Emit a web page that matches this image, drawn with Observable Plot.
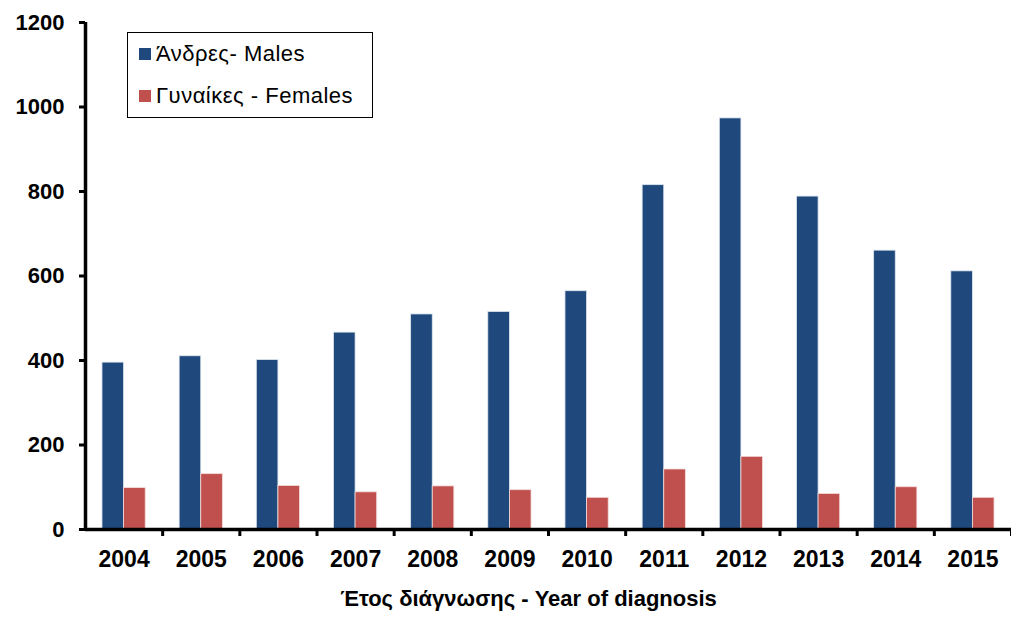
<!DOCTYPE html>
<html>
<head>
<meta charset="utf-8">
<script src="https://cdn.jsdelivr.net/npm/d3@7"></script>
<script src="https://cdn.jsdelivr.net/npm/@observablehq/plot@0.6"></script>
<style>
  html, body { margin: 0; padding: 0; background: #fff; }
  #wrap { position: relative; width: 1011px; height: 619px; font-family: "Liberation Sans", Arial, sans-serif; }
  #legend { position: absolute; left: 127px; top: 32px; width: 244px; height: 84px; border: 1px solid #000; background: #fff; box-sizing: content-box; }
  .item { position: absolute; left: 11px; display: flex; align-items: center; font-size: 22px; letter-spacing: 0.5px; color: #000; white-space: nowrap; }
  .sw { width: 12px; height: 12px; margin-right: 5px; }
</style>
</head>
<body>
<div id="wrap"></div>
<script>
const years = [2004, 2005, 2006, 2007, 2008, 2009, 2010, 2011, 2012, 2013, 2014, 2015];
const males = [395, 410, 401, 466, 509, 515, 564, 815, 973, 788, 660, 611];
const females = [98, 131, 103, 88, 102, 93, 75, 142, 172, 84, 100, 75];
const yTicks = [0, 200, 400, 600, 800, 1000, 1200];
const seriesNames = ["Άνδρες- Males", "Γυναίκες - Females"];
const seriesColors = ["#1F497D", "#C0504D"];
const xTitle = "Έτος διάγνωσης - Year of diagnosis";

const half = 0.28;
const maleData = years.map((y, i) => ({year: y, value: males[i]}));
const femaleData = years.map((y, i) => ({year: y, value: females[i]}));
const boundaries = years.slice(1).map(y => y - 0.5).concat([years[years.length - 1] + 0.5]);

const chart = Plot.plot({
  width: 1011,
  height: 619,
  marginLeft: 85,
  marginRight: 0,
  marginTop: 22,
  marginBottom: 90,
  style: {fontFamily: "'Liberation Sans', Arial, sans-serif", background: "#fff"},
  x: {type: "linear", domain: [years[0] - 0.5, years[years.length - 1] + 0.5]},
  y: {domain: [0, 1200]},
  marks: [
    Plot.rectY(maleData, {x1: d => d.year - half, x2: d => d.year, y: "value", fill: seriesColors[0], stroke: "#dfe6f0", strokeWidth: 0.8}),
    Plot.rectY(femaleData, {x1: d => d.year, x2: d => d.year + half, y: "value", fill: seriesColors[1], stroke: "#f3dcdb", strokeWidth: 0.8}),
    Plot.axisY({ticks: yTicks, tickSize: 6, tickPadding: 15, strokeWidth: 3, tickFormat: d => String(d), fontSize: 22, fontWeight: "bold", fill: "#000", label: null}),
    Plot.axisX({ticks: boundaries, tickSize: 7, strokeWidth: 3, tickFormat: () => "", label: null}),
    Plot.axisX({ticks: years, tickSize: 0, tickPadding: 21, tickFormat: d => String(d), fontSize: 23, fontWeight: "bold", fill: "#000", label: null}),
    Plot.ruleY([0], {stroke: "#000", strokeWidth: 3.5}),
    Plot.ruleX([years[0] - 0.5], {y1: 0, y2: 1200, stroke: "#000", strokeWidth: 3.5}),
    Plot.text([xTitle], {text: d => d, frameAnchor: "bottom", dy: 76, dx: -20, fontSize: 22, fontWeight: "bold", fill: "#000"})
  ]
});

const wrap = document.getElementById("wrap");
wrap.appendChild(chart);

const legend = document.createElement("div");
legend.id = "legend";
seriesNames.forEach((name, i) => {
  const it = document.createElement("div");
  it.className = "item";
  it.style.top = (i === 0 ? 8 : 50) + "px";
  const sw = document.createElement("div");
  sw.className = "sw";
  sw.style.background = seriesColors[i];
  const tx = document.createElement("span");
  tx.textContent = name;
  it.appendChild(sw);
  it.appendChild(tx);
  legend.appendChild(it);
});
wrap.appendChild(legend);
</script>
</body>
</html>
